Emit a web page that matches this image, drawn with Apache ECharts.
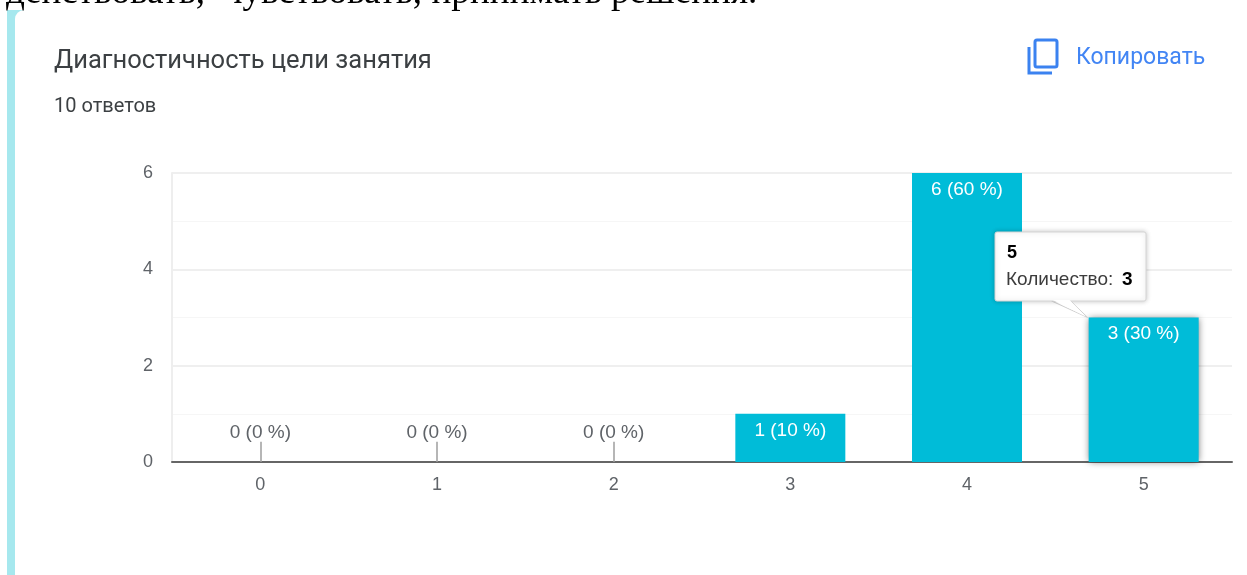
<!DOCTYPE html>
<html><head><meta charset="utf-8">
<style>html,body{margin:0;padding:0;background:#fff;overflow:hidden}#c{width:1247px;height:575px}</style>
<script src="https://cdn.jsdelivr.net/npm/echarts@6/dist/echarts.min.js"></script>
</head><body><div id="c"></div>
<script>
const categories = ['0','1','2','3','4','5'];
const counts = [0,0,0,1,6,3];
const totalAnswers = 10;
const yTicks = [0,2,4,6];
const titleText = 'Диагностичность цели занятия';
const subtitleText = '10 ответов';
const copyText = 'Копировать';
const cutText = 'действовать,  чувствовать, принимать решения.';
const tooltipCategory = '5';
const tooltipLabel = 'Количество:';
const tooltipValue = 3;
const stemHeight = 0.42;

const chart = echarts.init(document.getElementById('c'), null, {renderer:'canvas'});
const labelFont = '"Liberation Sans", Arial, sans-serif';
const teal = '#00bcd8';

const seriesData = counts.map((v,i)=>({
  value:v,
  itemStyle: categories[i]===tooltipCategory ? {shadowBlur:7,shadowColor:'rgba(0,0,0,0.55)'} : undefined,
  label: v===0 ? {position:'top',distance:20,color:'#5f6368'} : {position:'insideTop',distance:7,color:'#fff'}
}));
const stems = counts.map((v,i)=>v===0?[{coord:[categories[i],0]},{coord:[categories[i],stemHeight]}]:null).filter(Boolean);

chart.setOption({
  animation:false,
  backgroundColor:'#fff',
  grid:{left:172,right:15,top:173,bottom:113},
  xAxis:{type:'category',data:categories,
    axisLine:{show:true,lineStyle:{color:'#666',width:2}},axisTick:{show:false},
    axisLabel:{color:'#5f6368',fontSize:18,fontFamily:labelFont,margin:14},splitLine:{show:false}},
  yAxis:{type:'value',min:yTicks[0],max:yTicks[yTicks.length-1],interval:2,
    axisLine:{show:true,lineStyle:{color:'#eeeeee',width:2}},axisTick:{show:false},
    axisLabel:{color:'#5f6368',fontSize:18,fontFamily:labelFont,margin:19,padding:[2,0,0,0]},
    splitLine:{show:true,lineStyle:{color:'#efefef',width:2}},
    minorTick:{show:false,splitNumber:2},
    minorSplitLine:{show:true,lineStyle:{color:'#f6f6f6',width:1}}},
  series:[{type:'bar',data:seriesData,barWidth:110,itemStyle:{color:teal},
    label:{show:true,fontSize:19,fontFamily:labelFont,
      formatter:p=>`${p.value} (${Math.round(p.value/totalAnswers*100)} %)`},
    markLine:{silent:true,symbol:'none',label:{show:false},
      lineStyle:{color:'#9e9e9e',width:1.5,type:'solid'},data:stems}}]
});

const idx = categories.indexOf(tooltipCategory);
const tip = chart.convertToPixel({seriesIndex:0},[idx,counts[idx]]);
const ax = tip[0]-56, ay = tip[1];
const Z = 50;
chart.setOption({graphic:[
  {type:'rect',z:-1,shape:{x:7,y:10,width:30,height:565},style:{fill:'#a6e8ee'}},
  {type:'rect',z:-1,shape:{x:15,y:10,width:1232,height:565,r:[9,0,0,0]},style:{fill:'#fff'}},
  {type:'text',x:6,y:-25,style:{text:cutText,font:'37.2px "Liberation Serif", serif',fill:'#000'}},
  {type:'text',x:54,y:49,style:{text:titleText,font:'25.5px Roboto, sans-serif',fill:'#3c4043'}},
  {type:'text',x:54,y:97,style:{text:subtitleText,font:'20px Roboto, sans-serif',fill:'#3c4043'}},
  {type:'text',x:1076,y:47,style:{text:copyText,font:'23px Roboto, sans-serif',fill:'#4285f4'}},
  {type:'rect',shape:{x:1035,y:40,width:22,height:27,r:2},style:{fill:'none',stroke:'#3b82f0',lineWidth:3}},
  {type:'polyline',shape:{points:[[1029,47],[1029,73],[1052,73]]},style:{fill:'none',stroke:'#3b82f0',lineWidth:3}},
  {type:'polygon',z:Z,shape:{points:[[ax-36,301],[ax-17,301],[ax,ay]]},
   style:{fill:'#fff',stroke:'#cfcfcf',lineWidth:1}},
  {type:'rect',z:Z,shape:{x:995,y:232,width:151,height:69,r:2},
   style:{fill:'#fff',stroke:'#d5d5d5',lineWidth:1,shadowBlur:5,shadowColor:'rgba(0,0,0,0.22)'}},
  {type:'polygon',z:Z,shape:{points:[[ax-35,300],[ax-18,300],[ax-2,ay-1]]},style:{fill:'#fff'}},
  {type:'text',z:Z,x:1007,y:244,style:{text:tooltipCategory,font:'bold 18px '+labelFont,fill:'#000'}},
  {type:'text',z:Z,x:1006,y:270,style:{text:tooltipLabel,font:'19px '+labelFont,fill:'#3c3c3c'}},
  {type:'text',z:Z,x:1122,y:270,style:{text:String(tooltipValue),font:'bold 19px '+labelFont,fill:'#000'}}
]});
</script></body></html>
